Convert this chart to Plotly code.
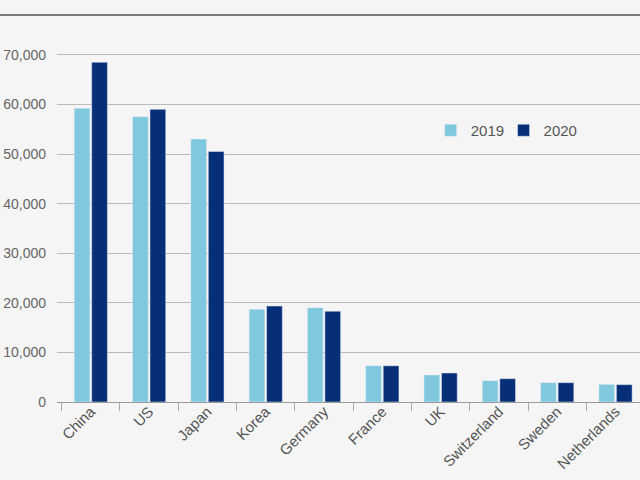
import plotly.graph_objects as go

countries = ["China", "US", "Japan", "Korea", "Germany", "France", "UK",
             "Switzerland", "Sweden", "Netherlands"]
vals_2019 = [59200, 57500, 53000, 18700, 19000, 7300, 5450, 4300, 3900, 3550]
vals_2020 = [68500, 59000, 50500, 19350, 18300, 7300, 5850, 4700, 3900, 3500]
y_ticks = [0, 10000, 20000, 30000, 40000, 50000, 60000, 70000]

fig = go.Figure()
fig.add_trace(go.Bar(name="2019", x=countries, y=vals_2019, marker_color="#7fc8dd",
                     legend="legend"))
fig.add_trace(go.Bar(name="2020", x=countries, y=vals_2020, marker_color="#062f78",
                     legend="legend2"))

leg = dict(orientation="h", y=0.75, xanchor="left", yanchor="middle",
           itemwidth=30, bgcolor="rgba(0,0,0,0)", font=dict(size=15))

fig.update_layout(
    width=640, height=480,
    margin=dict(l=57, r=0, t=40, b=78),
    paper_bgcolor="#f5f5f5", plot_bgcolor="#f5f5f5",
    barmode="group", bargap=0.4, bargroupgap=0.1,
    font=dict(family="Liberation Sans", size=15, color="#555555"),
    legend=dict(leg, x=0.641),
    legend2=dict(leg, x=0.766),
    showlegend=True,
)

# dark rule across the top of the page
fig.add_shape(type="line", xref="paper", yref="paper", x0=-0.2, x1=1.1,
              y0=1.069, y1=1.069, line=dict(color="#555555", width=1.5))

fig.update_xaxes(range=[-0.58, 9.42], tickangle=-45, ticks="outside",
                 tickson="boundaries", ticklen=8, tickcolor="#aaaaaa",
                 showline=True, linecolor="#999999", showgrid=False,
                 ticklabelstandoff=-6,
                 tickfont=dict(size=15, color="#555555"))
fig.update_yaxes(range=[0, 72984], tickvals=y_ticks, tickformat=",",
                 showgrid=True, gridcolor="#bbbbbb", gridwidth=1,
                 zeroline=False, ticklabelstandoff=10,
                 tickfont=dict(size=14, color="#666666"))

# drop the default page margin so the figure sits at the window corner
fig.write_html("out.html", config={"displayModeBar": False},
               post_script="document.body.style.margin='0';")
